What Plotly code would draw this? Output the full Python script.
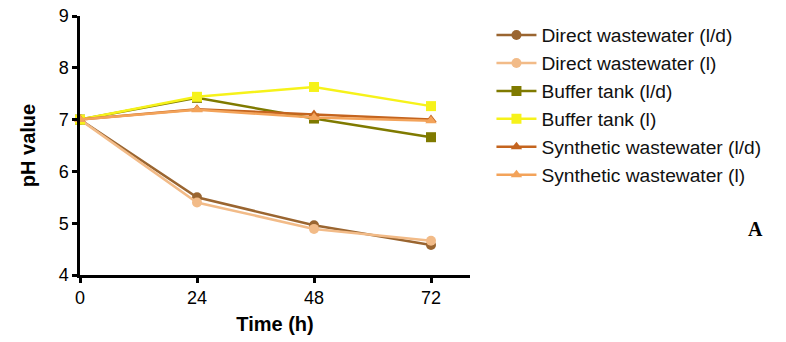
import plotly.graph_objects as go

# Sampling times (h)
time_h = [0, 24, 48, 72]

# pH readings per treatment
direct_ld = [7.00, 5.50, 4.96, 4.58]
direct_l = [7.00, 5.40, 4.89, 4.66]
buffer_ld = [7.00, 7.42, 7.02, 6.66]
buffer_l = [7.00, 7.44, 7.63, 7.26]
synthetic_ld = [7.00, 7.20, 7.10, 7.00]
synthetic_l = [7.00, 7.19, 7.04, 6.98]

series = [
    ("Direct wastewater (l/d)", direct_ld, "#9a6530", "circle"),
    ("Direct wastewater (l)", direct_l, "#f2bb88", "circle"),
    ("Buffer tank (l/d)", buffer_ld, "#7f7a00", "square"),
    ("Buffer tank (l)", buffer_l, "#f6f21a", "square"),
    ("Synthetic wastewater (l/d)", synthetic_ld, "#c4641e", "triangle-up"),
    ("Synthetic wastewater (l)", synthetic_l, "#f3a35a", "triangle-up"),
]

FONT = "Liberation Sans, Arial, sans-serif"

fig = go.Figure()
for i, (name, vals, color, sym) in enumerate(series):
    fig.add_trace(go.Scatter(
        x=time_h, y=vals, name=name, mode="lines+markers",
        legendgroup=f"g{i}",
        line=dict(color=color, width=2.5),
        marker=dict(symbol=sym, size=10, color=color),
        cliponaxis=False,
    ))

tick_font = dict(family=FONT, size=18, color="black")
title_font = dict(family=FONT, size=20, color="black")
common = dict(
    showline=True, linewidth=2.5, linecolor="black", ticks="outside",
    ticklen=5, tickwidth=2.5, tickcolor="black", showgrid=False,
    zeroline=False, tickfont=tick_font, tickprefix="<b>", ticksuffix="</b>",
)
fig.update_xaxes(
    range=[0, 80], tickvals=[0, 24, 48, 72], **common,
    title=dict(text="<b>Time (h)</b>", font=title_font, standoff=10),
)
fig.update_yaxes(
    range=[4, 9], tickvals=[4, 5, 6, 7, 8, 9], **common,
    title=dict(text="<b>pH value</b>", font=title_font, standoff=18),
)
fig.update_layout(
    width=786, height=342,
    margin=dict(l=80, r=316, t=16, b=67, autoexpand=False),
    plot_bgcolor="white", paper_bgcolor="white",
    font=dict(family=FONT, color="black"),
    showlegend=True,
    legend=dict(
        x=1.055, y=1.0, xanchor="left", yanchor="top",
        font=dict(family=FONT, size=19.2, color="#111111"),
        itemwidth=40, tracegroupgap=0, maxheight=1,
        bgcolor="rgba(0,0,0,0)",
    ),
)
fig.add_annotation(
    text="<b>A</b>", xref="paper", yref="paper",
    x=(755 - 80) / 390, y=(275 - 229) / 259, xanchor="center", yanchor="middle",
    showarrow=False, font=dict(family="Liberation Serif, Times New Roman, serif", size=20, color="black"),
)

fig.write_html("out.html")
